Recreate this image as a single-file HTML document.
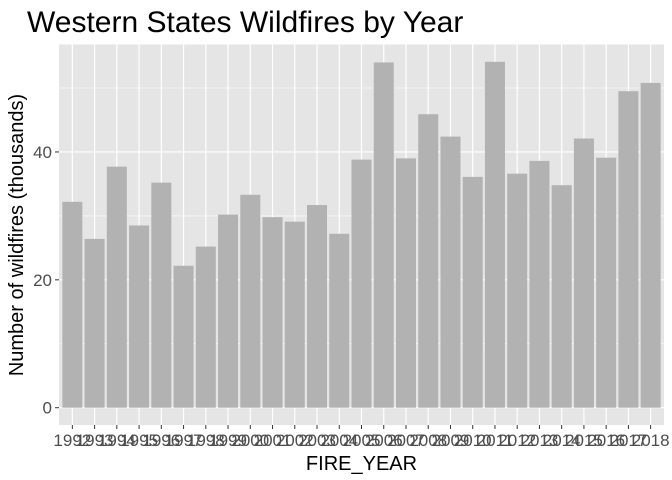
<!DOCTYPE html>
<html><head><meta charset="utf-8"><style>body{margin:0;background:#fff}svg{display:block;font-family:"Liberation Sans",sans-serif}</style></head>
<body>
<svg id="chart" width="672" height="480">
<text x="27" y="32" font-size="30" fill="#000">Western States Wildfires by Year</text>
<rect x="59" y="44.5" width="605" height="380.5" fill="#e5e5e5"/>
<g id="grid"></g><g id="bars"></g><g id="axes"></g>
<text x="361.5" y="470" font-size="20" text-anchor="middle" fill="#000">FIRE_YEAR</text>
<text transform="translate(23,235) rotate(-90)" font-size="20" text-anchor="middle" fill="#000">Number of wildfires (thousands)</text>
</svg>
<script>
const years=[1992,1993,1994,1995,1996,1997,1998,1999,2000,2001,2002,2003,2004,2005,2006,2007,2008,2009,2010,2011,2012,2013,2014,2015,2016,2017,2018];
const counts=[32.2,26.4,37.7,28.5,35.2,22.2,25.2,30.2,33.3,29.8,29.1,31.7,27.2,38.8,54.0,39.0,45.9,42.4,36.1,54.1,36.6,38.6,34.8,42.1,39.1,49.5,50.8];
const yTicks=[0,20,40];
const yMinor=[10,30,50];
const NS="http://www.w3.org/2000/svg";
const px0=59,pw=605,py0=44.5,ph=380.5;
const ymin=-2.705,ymax=56.805;
const n=years.length,unit=pw/(n-1+1.2);
const xs=i=>px0+(0.6+i)*unit;
const ys=v=>py0+ph*(ymax-v)/(ymax-ymin);
function mk(t,a,p){const e=document.createElementNS(NS,t);for(const k in a)e.setAttribute(k,a[k]);p.appendChild(e);return e;}
const grid=document.getElementById('grid'),bars=document.getElementById('bars'),axes=document.getElementById('axes');
yMinor.forEach(v=>{const l=mk('line',{x1:px0,x2:px0+pw,y1:ys(v),y2:ys(v),stroke:'#fff','stroke-width':0.6},grid);

});
yTicks.forEach(v=>{const l=mk('line',{x1:px0,x2:px0+pw,y1:ys(v),y2:ys(v),stroke:'#fff','stroke-width':1.2},grid);


const t=mk('text',{x:52,y:ys(v)+6,'font-size':17,'text-anchor':'end',fill:'#4d4d4d'},axes);t.textContent=v;


const tk=mk('line',{x1:55,x2:59,y1:ys(v),y2:ys(v),stroke:'#333','stroke-width':1},axes);

});
years.forEach((y,i)=>{const x=xs(i);
const g=mk('line',{x1:x,x2:x,y1:py0,y2:py0+ph,stroke:'#fff','stroke-width':1.2},grid);


const bw=unit*0.9;
const r=mk('rect',{x:x-bw/2,y:ys(counts[i]),width:bw,height:ys(0)-ys(counts[i]),fill:'#b2b2b2'},bars);


const tk=mk('line',{x1:x,x2:x,y1:py0+ph,y2:py0+ph+4,stroke:'#333','stroke-width':1},axes);


const t=mk('text',{x:x,y:446,'font-size':17,'text-anchor':'middle',fill:'#4d4d4d'},axes);t.textContent=y;

});
</script>
</body></html>
